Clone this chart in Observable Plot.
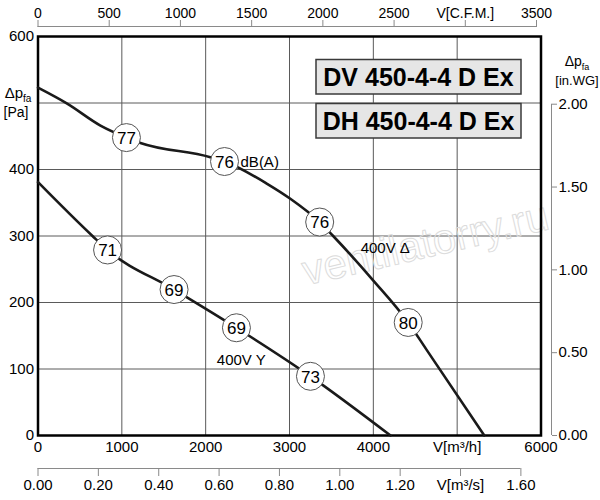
<!DOCTYPE html>
<html>
<head>
<meta charset="utf-8">
<script src="https://cdn.jsdelivr.net/npm/d3@7"></script>
<script src="https://cdn.jsdelivr.net/npm/@observablehq/plot@0.6"></script>
<style>
  html, body { margin: 0; padding: 0; background: #fff; }
  #chart { width: 600px; height: 500px; }
</style>
</head>
<body>
<div id="chart"></div>
<script>
// ---- Data ----
// 400V Δ curve: flow [m³/h] and static pressure [Pa]
const deltaFlow = [0, 348, 745, 1055, 1222, 2056, 2225, 2733, 3010, 3360, 3521, 4000, 4416, 4640, 5323];
const deltaPa   = [523, 499, 466, 448, 440, 418.5, 412, 378.5, 356, 321, 300, 233, 170, 128, 0];
// 400V Y curve
const wyeFlow = [0, 650, 830, 1623, 2367, 3250, 4205];
const wyePa   = [381, 300, 279, 219.5, 162, 89, 0];
// Sound level markers dB(A)
const deltaMarkFlow = [1055, 2225, 3360, 4416];
const deltaMarkPa   = [448, 412, 321, 170];
const deltaMarkDb   = ["77", "76", "76", "80"];
const wyeMarkFlow = [830, 1623, 2367, 3250];
const wyeMarkPa   = [279, 219.5, 162, 89];
const wyeMarkDb   = ["71", "69", "69", "73"];
// Curve annotations
const noteText = ["400V Δ", "400V Y"];
const noteFlow = [4142, 2425];
const notePa   = [281, 114];
// Axis ticks
const m3hTicks  = [0, 1000, 2000, 3000, 4000, 5000, 6000];
const paTicks   = [0, 100, 200, 300, 400, 500, 600];
const cfmTicks  = [0, 500, 1000, 1500, 2000, 2500, 3000, 3500];
const m3sTicks  = [0, 0.2, 0.4, 0.6, 0.8, 1.0, 1.2, 1.4, 1.6];
const inwgTicks = [0, 0.5, 1.0, 1.5, 2.0];
const titles = ["DV 450-4-4 D Ex", "DH 450-4-4 D Ex"];

// unit conversions
const CFM = 1.699;        // m³/h per CFM
const M3S = 3600;         // m³/h per m³/s
const INWG = 249.09;      // Pa per in.WG

const deltaLine = deltaFlow.map((f, i) => ({f, p: deltaPa[i]}));
const wyeLine = wyeFlow.map((f, i) => ({f, p: wyePa[i]}));
const marks = [
  ...deltaMarkFlow.map((f, i) => ({f, p: deltaMarkPa[i], t: deltaMarkDb[i]})),
  ...wyeMarkFlow.map((f, i) => ({f, p: wyeMarkPa[i], t: wyeMarkDb[i]}))
];
const notes = noteText.map((t, i) => ({t, f: noteFlow[i], p: notePa[i]}));

const GRID = "#5a5a5a";
const AXG = "#8a8a8a";

function axisTitles(index, scales, values, dims) {
  const g = d3.create("svg:g").attr("fill", "black");
  const yL = scales.y(500);
  const xL = dims.marginLeft - 19.5;
  const t1 = g.append("text").attr("x", xL).attr("y", yL - 5).attr("text-anchor", "middle").attr("font-size", 15);
  t1.append("tspan").text("Δp");
  t1.append("tspan").attr("font-size", 10).attr("dy", 4).text("fa");
  g.append("text").attr("x", xL - 2).attr("y", yL + 14).attr("text-anchor", "middle").attr("font-size", 14).text("[Pa]");
  const yR = scales.y(2 * INWG);
  const xR = dims.width - dims.marginRight + 36.5;
  const t2 = g.append("text").attr("x", xR).attr("y", yR - 38).attr("text-anchor", "middle").attr("font-size", 14);
  t2.append("tspan").text("Δp");
  t2.append("tspan").attr("font-size", 9).attr("dy", 4).text("fa");
  g.append("text").attr("x", xR).attr("y", yR - 19).attr("text-anchor", "middle").attr("font-size", 13).text("[in.WG]");
  return g.node();
}

function titleBoxes(index, scales, values, dims) {
  const g = d3.create("svg:g");
  const right = dims.width - dims.marginRight - 19.5;
  const w = 205, h = 34.5;
  titles.forEach((t, i) => {
    const y = dims.marginTop + 23.5 + i * 44;
    g.append("rect").attr("x", right - w).attr("y", y).attr("width", w).attr("height", h)
      .attr("fill", "#e6e6e6").attr("stroke", "#3a3a3a").attr("stroke-width", 1.5);
    g.append("text").attr("x", right - w / 2).attr("y", y + h / 2 + 9)
      .attr("text-anchor", "middle").attr("font-weight", "bold").attr("font-size", 25)
      .attr("fill", "black").text(t);
  });
  return g.node();
}

const chart = Plot.plot({
  width: 600,
  height: 500,
  marginLeft: 37.5,
  marginRight: 59.5,
  marginTop: 36,
  marginBottom: 65,
  style: {fontFamily: "'Liberation Sans', Arial, sans-serif", fontSize: "15px", background: "white", color: "black"},
  x: {domain: [0, 6000], label: null},
  y: {domain: [0, 600], label: null},
  marks: [
    Plot.gridX(m3hTicks, {stroke: GRID, strokeOpacity: 1, strokeWidth: 1}),
    Plot.gridY(paTicks, {stroke: GRID, strokeOpacity: 1, strokeWidth: 1}),
    Plot.text(["ventilatorry.ru"], {frameAnchor: "middle", dx: 136, dy: 8, rotate: -13, fontSize: 42,
      fill: "none", stroke: "#dcdcdc", strokeWidth: 1, text: d => d}),
    titleBoxes,
    Plot.frame({stroke: "black", strokeWidth: 2.5}),
    Plot.line(deltaLine, {x: "f", y: "p", curve: "monotone-x", stroke: "#1a1a1a", strokeWidth: 2.6}),
    Plot.line(wyeLine, {x: "f", y: "p", curve: "monotone-x", stroke: "#1a1a1a", strokeWidth: 2.6}),
    Plot.dot(marks, {x: "f", y: "p", r: 14, fill: "white", stroke: "#555", strokeWidth: 1}),
    Plot.text(marks, {x: "f", y: "p", text: "t", fontSize: 17, fill: "black", dy: 1}),
    Plot.text(["dB(A)"], {x: () => deltaMarkFlow[1], y: () => deltaMarkPa[1], text: d => d, dx: 16, textAnchor: "start", fontSize: 15, fill: "black", dy: 1}),
    Plot.text(notes, {x: "f", y: "p", text: "t", fontSize: 15, fill: "black"}),
    // primary axes
    Plot.axisX({anchor: "bottom", ticks: m3hTicks, tickSize: 0, tickPadding: 6, fontSize: 15,
      tickFormat: d => d === 5000 ? "V[m³/h]" : String(d), label: null}),
    Plot.axisY({anchor: "left", ticks: paTicks, tickSize: 0, tickPadding: 4, fontSize: 15,
      tickFormat: d => d === 500 ? "" : String(d), label: null}),
    // top CFM axis
    Plot.ruleY([600], {x1: 0, x2: cfmTicks[cfmTicks.length - 1] * CFM, dy: -10, stroke: AXG, strokeWidth: 1}),
    Plot.axisX({anchor: "top", ticks: cfmTicks.map(c => c * CFM), tickSize: 7, tickPadding: 2, dy: -10, stroke: AXG, fontSize: 14,
      tickFormat: d => { const c = Math.round(d / CFM); return c === 3000 ? "V[C.F.M.]" : String(c); }, label: null}),
    // bottom m³/s axis
    Plot.ruleY([0], {x1: 0, x2: m3sTicks[m3sTicks.length - 1] * M3S, dy: 33, stroke: AXG, strokeWidth: 1}),
    Plot.axisX({anchor: "bottom", ticks: m3sTicks.map(v => v * M3S), tickSize: 8, tickPadding: 3, dy: 33, stroke: AXG, fontSize: 15,
      tickFormat: d => { const v = d / M3S; return Math.abs(v - 1.4) < 1e-6 ? "V[m³/s]" : v.toFixed(2); }, label: null}),
    // right in.WG axis
    Plot.ruleX([6000], {y1: 0, y2: inwgTicks[inwgTicks.length - 1] * INWG, dx: 10.5, stroke: AXG, strokeWidth: 1}),
    Plot.axisY({anchor: "right", ticks: inwgTicks.map(v => v * INWG), tickSize: 5, tickPadding: 2, dx: 10.5, stroke: AXG, fontSize: 15,
      tickFormat: d => (d / INWG).toFixed(2), label: null}),
    axisTitles
  ]
});
document.getElementById("chart").appendChild(chart);
</script>
</body>
</html>
